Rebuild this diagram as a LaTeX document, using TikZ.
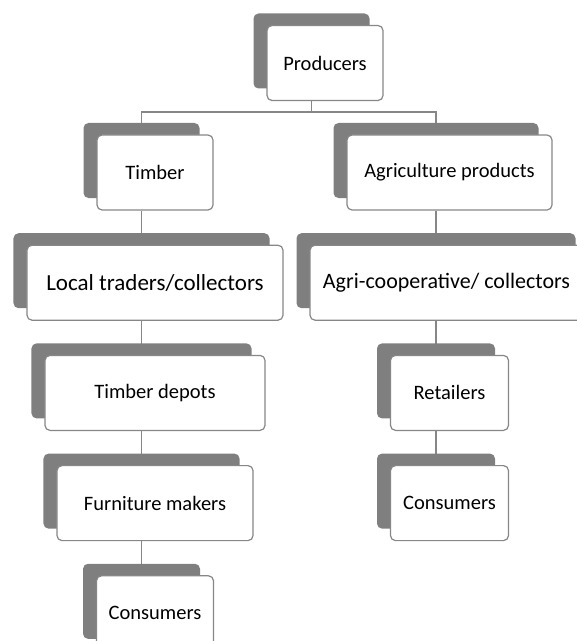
\documentclass[tikz,border=0pt]{standalone}
\usepackage{fontspec}
\setmainfont{Carlito}
\usepackage{xcolor}
\definecolor{shgray}{RGB}{127,127,127}
\definecolor{edgegray}{RGB}{135,135,135}
\usepackage{tikz}
\usetikzlibrary{positioning,shadows,backgrounds,calc}

\begin{document}
\begin{tikzpicture}[x=1bp,y=-1bp,
  node distance=34bp,
  box/.style={draw=edgegray,fill=white,rounded corners=5bp,line width=1.2bp,
    minimum height=75bp,inner sep=0pt,align=center,
    font=\fontsize{20.5bp}{24bp}\selectfont,
    drop shadow={shadow xshift=-13.5bp,shadow yshift=12bp,opacity=1,fill=shgray}},
  bigbox/.style={box,font=\fontsize{23bp}{27bp}\selectfont},
  conn/.style={draw=edgegray,line width=1.3bp}]
  \clip (0,0) rectangle (577,641);
  \node[box,minimum width=116bp](prod) at (325,63){Producers};
  \node[box,minimum width=116bp](timber) at (155,172.5){Timber};
  \node[box,minimum width=205bp](agri) at (449.5,172.5){Agriculture products};
  \node[bigbox,minimum width=256bp,below=of timber](local){Local traders/collectors};
  \node[box,minimum width=220bp,below=of local](depot){Timber depots};
  \node[box,minimum width=196bp,below=of depot](furn){Furniture makers};
  \node[box,minimum width=117bp,below=of furn](consl){Consumers};
  \node[bigbox,minimum width=279bp,below=of agri,
    font=\fontsize{22bp}{26bp}\selectfont](coop){Agri-cooperative/ collectors\hspace{6bp}};
  \node[box,minimum width=118bp,below=of coop](retail){Retailers};
  \node[box,minimum width=118bp,below=of retail](consr){Consumers};
  \begin{scope}[on background layer]
    \draw[conn]([xshift=-13.5bp]prod.south)--++(0,11) coordinate(bus);
    \draw[conn]([xshift=-13.5bp]timber.north)|-(bus)-|([xshift=-13.5bp]agri.north);
    \draw[conn]([xshift=-13.5bp]timber.south)--([xshift=-13.5bp]local.north);
    \draw[conn]([xshift=-13.5bp]local.south)--([xshift=-13.5bp]depot.north);
    \draw[conn]([xshift=-13.5bp]depot.south)--([xshift=-13.5bp]furn.north);
    \draw[conn]([xshift=-13.5bp]furn.south)--([xshift=-13.5bp]consl.north);
    \draw[conn]([xshift=-13.5bp]agri.south)--([xshift=-13.5bp]coop.north);
    \draw[conn]([xshift=-13.5bp]coop.south)--([xshift=-13.5bp]retail.north);
    \draw[conn]([xshift=-13.5bp]retail.south)--([xshift=-13.5bp]consr.north);
  \end{scope}
\end{tikzpicture}
\end{document}
